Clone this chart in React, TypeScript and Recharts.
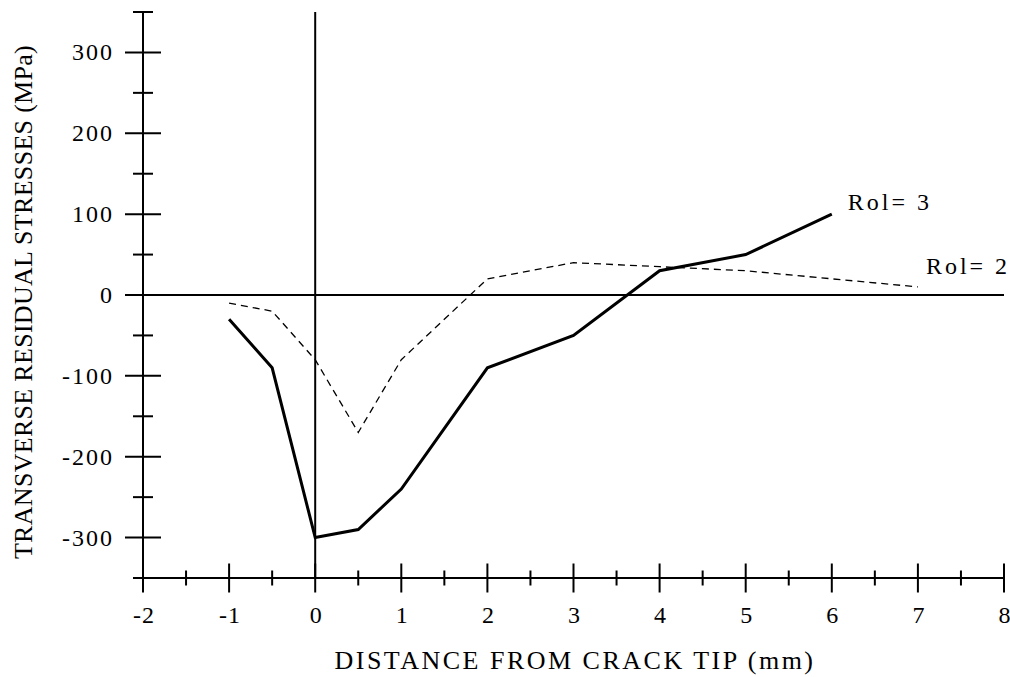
import { LineChart, Line, XAxis, YAxis, ReferenceLine, LabelList, Label } from "recharts";

// distance from crack tip (mm) and stresses (MPa)
const distance = [-1, -0.5, 0, 0.5, 1, 2, 3, 4, 5, 6, 7];
const rol3 = [-30, -90, -300, -290, -240, -90, -50, 30, 50, 100, null];
const rol2 = [-10, -20, -80, -170, -80, 20, 40, 35, 30, 20, 10];
const seriesNames = ["Rol= 3", "Rol= 2"];

const xTicks = [-2, -1.5, -1, -0.5, 0, 0.5, 1, 1.5, 2, 2.5, 3, 3.5, 4, 4.5, 5, 5.5, 6, 6.5, 7, 7.5, 8];
const yTicks = [-350, -300, -250, -200, -150, -100, -50, 0, 50, 100, 150, 200, 250, 300, 350];

const data = distance.map((d, i) => ({ d, rol3: rol3[i], rol2: rol2[i] }));

const FONT = "'Liberation Serif', 'Times New Roman', serif";

const lastIndex = (arr: (number | null)[]) => {
  for (let i = arr.length - 1; i >= 0; i--) if (arr[i] != null) return i;
  return -1;
};

function XTick(props: any) {
  const { x, y, payload } = props;
  const v = payload.value;
  const major = Number.isInteger(v);
  const h = major ? 14.5 : 7.5;
  return (
    <g>
      <line x1={x} x2={x} y1={y - h} y2={y + h} stroke="#000" strokeWidth={2} />
      {major && (
        <text x={x + 1} y={y + 45} textAnchor="middle" fontFamily={FONT} fontSize={24} letterSpacing={1} fill="#000">
          {v}
        </text>
      )}
    </g>
  );
}

function YTick(props: any) {
  const { x, y, payload } = props;
  const v = payload.value;
  const major = v % 100 === 0;
  const w = major ? 18 : 10;
  return (
    <g>
      <line x1={x - w} x2={x + w} y1={y} y2={y} stroke="#000" strokeWidth={2} />
      {major && (
        <text x={x - 29} y={y + 8} textAnchor="end" fontFamily={FONT} fontSize={24} letterSpacing={2} fill="#000">
          {v}
        </text>
      )}
    </g>
  );
}

function endLabel(name: string, idx: number, dx: number, dy: number) {
  return (props: any) => {
    if (props.index !== idx) return null;
    return (
      <text x={props.x + dx} y={props.y + dy} fontFamily={FONT} fontSize={24} letterSpacing={3} fill="#000">
        {name}
      </text>
    );
  };
}

export default function App() {
  return (
    <div style={{ position: "absolute", left: 0, top: 0, background: "#fff" }}>
      <LineChart width={1010} height={677} data={data} margin={{ top: 12, right: 6, bottom: 0, left: 0 }}>
        <XAxis
          dataKey="d"
          type="number"
          domain={[-2, 8]}
          ticks={xTicks}
          interval={0}
          height={99}
          tickSize={0}
          tickMargin={0}
          tick={<XTick />}
          axisLine={{ stroke: "#000", strokeWidth: 2 }}
          tickLine={false}
        >
          <Label
            content={() => (
              <text x={575} y={669} textAnchor="middle" fontFamily={FONT} fontSize={26} letterSpacing={2.5} fill="#000">
                DISTANCE FROM CRACK TIP (mm)
              </text>
            )}
          />
        </XAxis>
        <YAxis
          type="number"
          domain={[-350, 350]}
          ticks={yTicks}
          interval={0}
          width={143}
          tickSize={0}
          tickMargin={0}
          tick={<YTick />}
          axisLine={{ stroke: "#000", strokeWidth: 2 }}
          tickLine={false}
        >
          <Label
            content={() => (
              <text
                transform="translate(32,302) rotate(-90)"
                textAnchor="middle"
                fontFamily={FONT}
                fontSize={26}
                letterSpacing={0.3}
                fill="#000"
              >
                TRANSVERSE RESIDUAL STRESSES (MPa)
              </text>
            )}
          />
        </YAxis>
        <ReferenceLine y={0} stroke="#000" strokeWidth={2} />
        <ReferenceLine x={0} stroke="#000" strokeWidth={2} />
        <Line
          dataKey="rol3"
          type="linear"
          stroke="#000"
          strokeWidth={3}
          dot={false}
          isAnimationActive={false}
        >
          <LabelList dataKey="rol3" content={endLabel(seriesNames[0], lastIndex(rol3), 16, -4)} />
        </Line>
        <Line
          dataKey="rol2"
          type="linear"
          stroke="#000"
          strokeWidth={1.3}
          strokeDasharray="7 5"
          dot={false}
          isAnimationActive={false}
        >
          <LabelList dataKey="rol2" content={endLabel(seriesNames[1], lastIndex(rol2), 8, -13)} />
        </Line>
      </LineChart>
    </div>
  );
}
